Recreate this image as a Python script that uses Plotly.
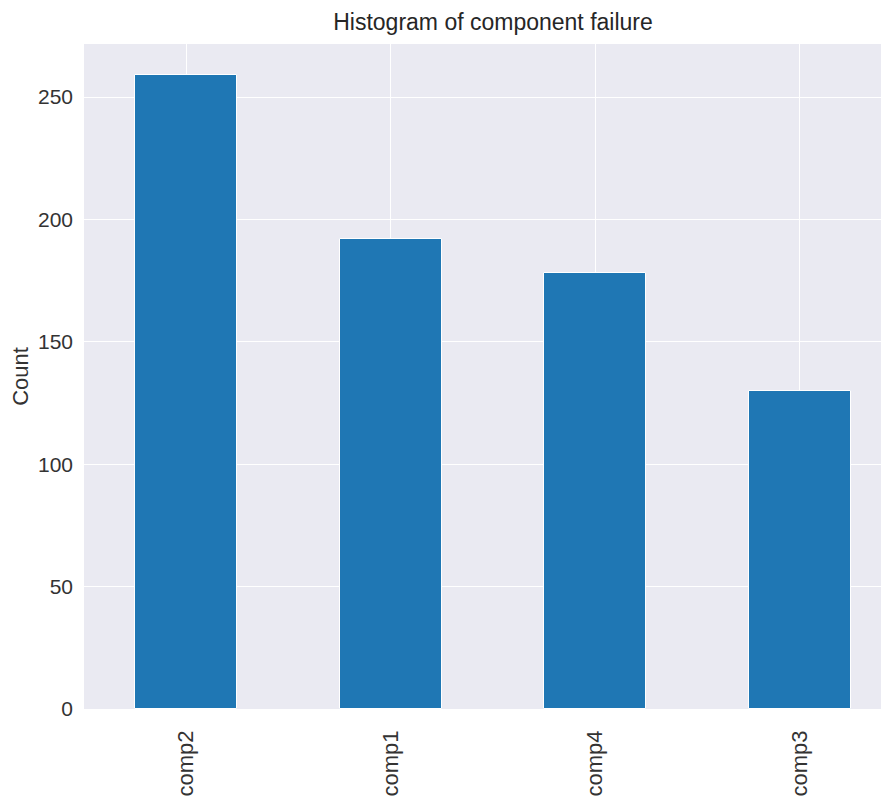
import plotly.graph_objects as go

categories = ["comp2", "comp1", "comp4", "comp3"]
counts = [259, 192, 178, 130]
y_ticks = [0, 50, 100, 150, 200, 250]

# page has an 8px body margin; compensate so the plot lands where the reference has it
W, H = 881, 795
L, T = 76, 36
B = H - 701.5

fig = go.Figure()
fig.add_trace(go.Bar(
    x=list(range(len(categories))),
    y=counts,
    width=0.5,
    marker=dict(color="#1f77b4", line=dict(color="white", width=1)),
))

font_family = "Liberation Sans, Arial, sans-serif"
fig.update_layout(
    width=W, height=H,
    margin=dict(l=L, r=0, t=T, b=B),
    paper_bgcolor="white",
    plot_bgcolor="#EAEAF2",
    showlegend=False,
    bargap=0,
    title=dict(text="Histogram of component failure",
               x=(485 - L) / (W - L), xanchor="center", xref="paper",
               y=1 - 14 / H, yanchor="middle",
               font=dict(family=font_family, size=23, color="#262626")),
    font=dict(family=font_family, color="#333333"),
)
fig.update_xaxes(
    range=[-0.5, -0.5 + (889 - 84) / 204.5],
    tickmode="array",
    tickvals=list(range(len(categories))),
    ticktext=categories,
    tickangle=-90,
    tickfont=dict(size=22, color="#333333"),
    showgrid=True, gridcolor="white", gridwidth=1.3,
    zeroline=False, showline=False, ticks="",
    ticklabelstandoff=16,
)
fig.update_yaxes(
    range=[0, 271.7],
    tickmode="array",
    tickvals=y_ticks,
    ticktext=[str(v) for v in y_ticks],
    tickfont=dict(size=21, color="#333333"),
    showgrid=True, gridcolor="white", gridwidth=1.3,
    zeroline=False, showline=False, ticks="",
    ticklabelstandoff=10,
    title=dict(text="Count", font=dict(size=22, color="#333333"), standoff=16),
)

fig.write_html("out.html")
